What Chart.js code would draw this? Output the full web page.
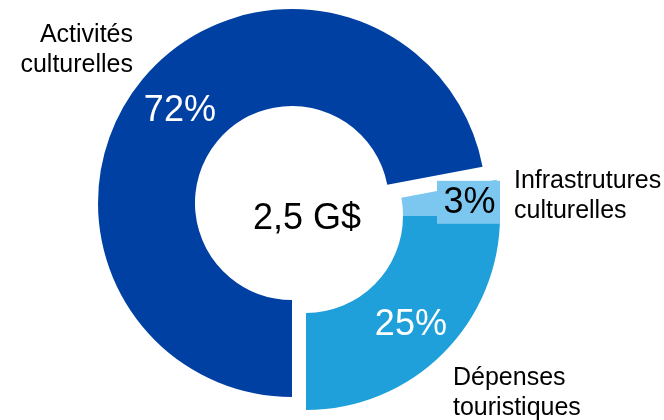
<!DOCTYPE html>
<html>
<head>
<meta charset="utf-8">
<script src="https://cdn.jsdelivr.net/npm/chart.js@4"></script>
<style>
html, body { margin: 0; padding: 0; background: #fff; }
#wrap { width: 664px; height: 420px; }
</style>
</head>
<body>
<div id="wrap"><canvas id="budgetChart"></canvas></div>
<script>
const categories = [['Activités', 'culturelles'], ['Infrastrutures', 'culturelles'], ['Dépenses', 'touristiques']];
const shares = [72, 3, 25];
const totalLabel = '2,5 G$';
const sliceColors = ['#0040a3', '#7cc7ef', '#1fa0da'];

const FONT = '"Liberation Sans", Arial, sans-serif';

// pulled-out slices (dx, dy) and where each category caption sits
const explodeShift = [[0, 0], [14, 13], [14, 13]];
const captionSpots = [
    { x: 133, y: 42, align: 'right' },
    { x: 514, y: 188, align: 'left' },
    { x: 453, y: 385, align: 'left' }
];

const explodePlugin = {
    id: 'explode',
    afterDatasetUpdate(chart, args) {
        let arcs = args.meta.data;
        explodeShift.forEach((s, i) => {
            arcs[i].x += s[0];
            arcs[i].y += s[1];
        });
    }
};

const labelPlugin = {
    id: 'sliceLabels',
    afterDatasetsDraw(chart) {
        let ctx = chart.ctx;
        let arcs = chart.getDatasetMeta(0).data;
        ctx.save();

        // percentages inside the two big slices
        let nudge = [[0, 1], null, [2, 6]];
        ctx.font = '36px ' + FONT;
        ctx.textAlign = 'center';
        ctx.textBaseline = 'middle';
        ctx.fillStyle = '#fff';
        [0, 2].forEach(i => {
            let p = arcs[i].getCenterPoint();
            ctx.fillText(shares[i] + '%', p.x + nudge[i][0], p.y + nudge[i][1]);
        });

        // small slice gets a boxed label on its outer edge
        let small = arcs[1];
        let sp = small.getCenterPoint();
        let boxW = 63, boxH = 43;
        let boxRight = small.x + small.outerRadius;
        ctx.fillStyle = sliceColors[1];
        ctx.fillRect(boxRight - boxW, sp.y - boxH / 2, boxW, boxH);
        ctx.fillStyle = '#000';
        ctx.fillText(shares[1] + '%', boxRight - boxW / 2 + 1, sp.y + 1);

        // total in the hole
        ctx.fillText(totalLabel, arcs[0].x + 15, arcs[0].y + 16);

        // category captions
        ctx.font = '25px ' + FONT;
        ctx.textBaseline = 'alphabetic';
        categories.forEach((lines, i) => {
            let spot = captionSpots[i];
            ctx.textAlign = spot.align;
            lines.forEach((line, j) => {
                ctx.fillText(line, spot.x, spot.y + j * 30);
            });
        });
        ctx.restore();
    }
};

new Chart(document.getElementById('budgetChart'), {
    type: 'doughnut',
    data: {
        labels: categories.map(c => c.join(' ')),
        datasets: [{
            data: shares,
            backgroundColor: sliceColors,
            borderWidth: 0
        }]
    },
    options: {
        responsive: true,
        maintainAspectRatio: false,
        animation: false,
        events: [],
        rotation: 180,
        cutout: '50%',
        layout: {
            padding: { left: 0, right: 80, top: 9, bottom: 23 }
        },
        plugins: {
            legend: { display: false },
            tooltip: { enabled: false }
        }
    },
    plugins: [explodePlugin, labelPlugin]
});
</script>
</body>
</html>
